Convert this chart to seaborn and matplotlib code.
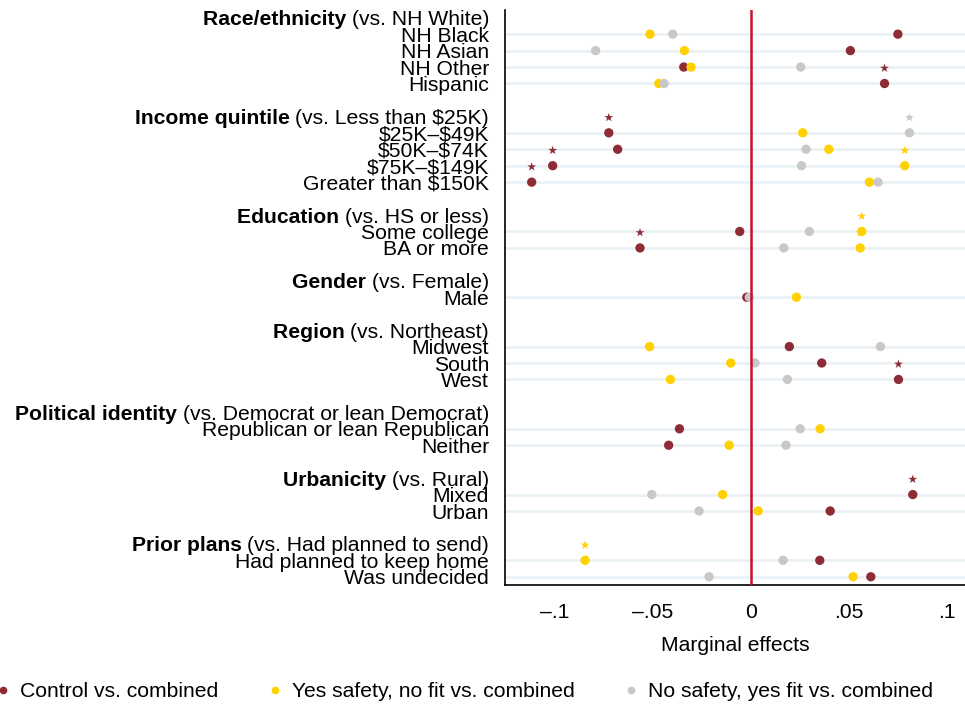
# Marginal effects dot plot: three treatment contrasts by respondent characteristic
import pandas as pd
import matplotlib.pyplot as plt
import seaborn as sns
import numpy as np

# Groups: bold heading, reference category, items
group_titles = ['Race/ethnicity', 'Income quintile', 'Education', 'Gender',
                'Region', 'Political identity', 'Urbanicity', 'Prior plans']
group_refs = ['(vs. NH White)', '(vs. Less than $25K)', '(vs. HS or less)', '(vs. Female)',
              '(vs. Northeast)', '(vs. Democrat or lean Democrat)', '(vs. Rural)',
              '(vs. Had planned to send)']
group_items = [
    ['NH Black', 'NH Asian', 'NH Other', 'Hispanic'],
    ['$25K\u2013$49K', '$50K\u2013$74K', '$75K\u2013$149K', 'Greater than $150K'],
    ['Some college', 'BA or more'],
    ['Male'],
    ['Midwest', 'South', 'West'],
    ['Republican or lean Republican', 'Neither'],
    ['Mixed', 'Urban'],
    ['Had planned to keep home', 'Was undecided'],
]

series_names = ['Control vs. combined', 'Yes safety, no fit vs. combined',
                'No safety, yes fit vs. combined']
control = [0.0748, 0.0506, -0.0343, 0.068, -0.0725, -0.068, -0.1011, -0.1118,
           -0.0058, -0.0566, -0.0022, 0.0195, 0.036, 0.0751, -0.0365, -0.042,
           0.0824, 0.0403, 0.035, 0.061]
safety_nofit = [-0.0515, -0.034, -0.0306, -0.047, 0.0263, 0.0396, 0.0783, 0.0603,
                0.0564, 0.0556, 0.0231, -0.0517, -0.0104, -0.0411, 0.0352, -0.0112,
                -0.0145, 0.0036, -0.0846, 0.052]
nosafety_fit = [-0.0399, -0.0792, 0.0253, -0.0443, 0.0807, 0.028, 0.0257, 0.0647,
                0.0297, 0.0167, -0.0009, 0.0659, 0.002, 0.0185, 0.025, 0.0178,
                -0.0506, -0.0265, 0.0163, -0.0214]
# significance flags (star drawn above the dot)
control_sig = [0, 0, 0, 1, 1, 0, 1, 1, 0, 1, 0, 0, 0, 1, 0, 0, 1, 0, 0, 0]
safety_nofit_sig = [0, 0, 0, 0, 0, 0, 1, 0, 1, 1, 0, 0, 0, 0, 0, 0, 0, 0, 1, 0]
nosafety_fit_sig = [0, 0, 0, 0, 1, 0, 0, 0, 0, 0, 0, 0, 0, 0, 0, 0, 0, 0, 0, 0]

xticks = [-0.1, -0.05, 0, 0.05, 0.1]
xticklabels = ['\u2013.1', '\u2013.05', '0', '.05', '.1']

colors = ['#8e2c35', '#ffd100', '#c8c8c8']

# build row layout: heading row, item rows, blank row between groups
row_labels, row_pos, is_header, item_rows = [], [], [], []
r = 0
for gi, items in enumerate(group_items):
    row_labels.append(group_refs[gi]); row_pos.append(r); is_header.append(True)
    r += 1
    for it in items:
        row_labels.append(it); row_pos.append(r); is_header.append(False)
        item_rows.append(r)
        r += 1
    r += 1
last_row = r - 2

vals = [control, safety_nofit, nosafety_fit]
sigs = [control_sig, safety_nofit_sig, nosafety_fit_sig]
df = pd.concat([pd.DataFrame({'row': item_rows, 'effect': v, 'series': s, 'sig': g})
                for v, s, g in zip(vals, series_names, sigs)], ignore_index=True)
stars = df[df['sig'] == 1].copy()
stars['row'] = stars['row'] - 0.93

sns.set_style('white')
plt.rcParams['font.family'] = ['Liberation Sans', 'DejaVu Sans']
plt.rcParams['text.parse_math'] = False
for k in ['text.color', 'axes.labelcolor', 'xtick.color', 'ytick.color']:
    plt.rcParams[k] = 'black'

FS = 15.2
fig = plt.figure(figsize=(9.65, 7.09), dpi=100)
ax = fig.add_axes([0.5233, 0.1749, 0.4767, 0.8117])

palette = dict(zip(series_names, colors))
sns.scatterplot(data=df, x='effect', y='row', hue='series', palette=palette,
                s=45, linewidth=0, ax=ax, legend=False, zorder=3)
sns.scatterplot(data=stars, x='effect', y='row', hue='series', palette=palette,
                marker='*', s=45, linewidth=0, ax=ax, legend=False, zorder=3)

ax.axvline(0, color='#c8102e', lw=1.8, zorder=4)

ax.set_xlim(-0.1254, 0.109)
ax.set_ylim(last_row + 0.5, -0.5)
ax.set_xticks(xticks)
ax.set_xticklabels(xticklabels, fontsize=FS)
ax.set_yticks(row_pos)
ax.set_yticklabels(row_labels, fontsize=FS)
ax.tick_params(axis='x', length=7, width=1.2, pad=6)
ax.tick_params(axis='y', length=7, width=1.2, pad=4.5)
ax.set_xlabel('Marginal effects', fontsize=FS, labelpad=10)
ax.set_ylabel('')

ax.grid(axis='y', color='#eaf1f4', lw=2, zorder=0)
ax.grid(axis='x', visible=False)
for sp in ['top', 'right']:
    ax.spines[sp].set_visible(False)
for sp in ['left', 'bottom']:
    ax.spines[sp].set_color('black')
    ax.spines[sp].set_linewidth(1.2)

# header rows: no tick / gridline, bold title placed left of reference text
titles = iter(group_titles)
for tick, hdr in zip(ax.yaxis.get_major_ticks(), is_header):
    if hdr:
        tick.tick1line.set_visible(False)
        tick.gridline.set_visible(False)
        ax.annotate(next(titles) + ' ', xy=(0, 0), xycoords=tick.label1,
                    ha='right', va='bottom', fontsize=FS, fontweight='bold')

handles = [plt.Line2D([], [], marker='o', ls='', color=c, markersize=4.5) for c in colors]
fig.legend(handles, series_names, loc='center', bbox_to_anchor=(0.4788, 0.024),
           ncol=3, frameon=False, fontsize=FS, handletextpad=0.2, columnspacing=2.08,
           handlelength=1.2)

fig.savefig('out.png', dpi=100)
